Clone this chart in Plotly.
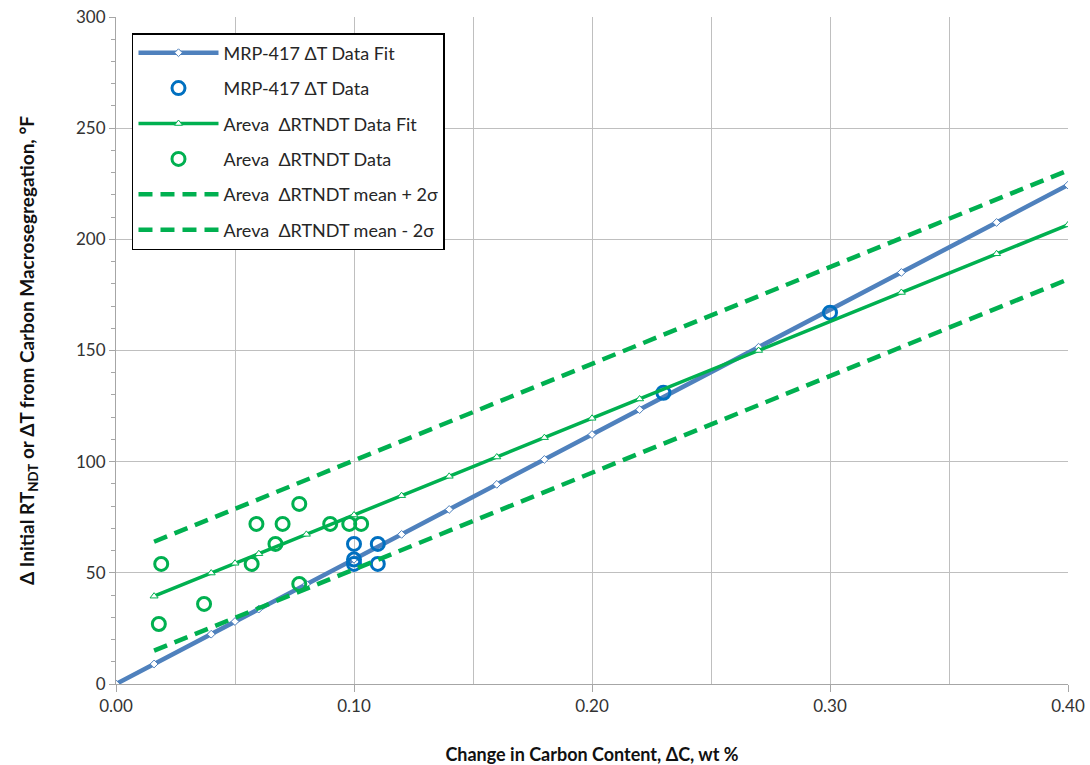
import plotly.graph_objects as go

# MRP-417 fit line (through the origin) and its plotted points
mrp_fit_x = [0.0, 0.016, 0.04, 0.05, 0.06, 0.08, 0.10, 0.12, 0.14, 0.16, 0.18, 0.20, 0.22, 0.27, 0.33, 0.37, 0.40]
mrp_fit_y = [0.0, 9.0, 22.4, 28.1, 33.7, 44.9, 56.1, 67.3, 78.5, 89.8, 101.0, 112.2, 123.4, 151.5, 185.1, 207.6, 224.4]

# MRP-417 measured data
mrp_x = [0.10, 0.10, 0.10, 0.11, 0.11, 0.23, 0.30]
mrp_y = [63, 56, 54, 63, 54, 131, 167]

# Areva fit line
areva_fit_x = [0.016, 0.04, 0.05, 0.06, 0.08, 0.10, 0.12, 0.14, 0.16, 0.18, 0.20, 0.22, 0.27, 0.33, 0.37, 0.40]
areva_fit_y = [39.5, 49.9, 54.3, 58.6, 67.3, 76.0, 84.7, 93.4, 102.1, 110.8, 119.5, 128.2, 150.0, 176.1, 193.5, 206.5]

# Areva measured data
areva_x = [0.018, 0.019, 0.037, 0.057, 0.059, 0.067, 0.070, 0.077, 0.077, 0.090, 0.098, 0.103]
areva_y = [27, 54, 36, 54, 72, 63, 72, 81, 45, 72, 72, 72]

# Areva +/- 2 sigma bounds
band_x = [0.016, 0.40]
band_upper = [64.0, 231.0]
band_lower = [15.0, 182.0]

x_ticks = [0.0, 0.10, 0.20, 0.30, 0.40]
x_tick_text = ["0.00", "0.10", "0.20", "0.30", "0.40"]

BLUE_LINE = "#4F81BD"
BLUE_DATA = "#0070C0"
GREEN = "#00B050"
FONT = "Lato, 'Open Sans', sans-serif"

fig = go.Figure()

fig.add_trace(go.Scatter(
    x=mrp_fit_x, y=mrp_fit_y, mode="lines+markers",
    name="MRP-417 ΔT Data Fit", legendgroup="a",
    line=dict(color=BLUE_LINE, width=4.5),
    marker=dict(symbol="diamond", size=6, color="white",
                line=dict(color=BLUE_LINE, width=1)),
))
fig.add_trace(go.Scatter(
    x=mrp_x, y=mrp_y, mode="markers",
    name="MRP-417 ΔT Data", legendgroup="b",
    marker=dict(symbol="circle-open", size=13, color=BLUE_DATA,
                line=dict(color=BLUE_DATA, width=3)),
))
fig.add_trace(go.Scatter(
    x=areva_fit_x, y=areva_fit_y, mode="lines+markers",
    name="Areva  ΔRTNDT Data Fit", legendgroup="c",
    line=dict(color=GREEN, width=3.5),
    marker=dict(symbol="triangle-up", size=7, color="white",
                line=dict(color=GREEN, width=1)),
))
fig.add_trace(go.Scatter(
    x=areva_x, y=areva_y, mode="markers",
    name="Areva  ΔRTNDT Data", legendgroup="d",
    marker=dict(symbol="circle-open", size=13, color=GREEN,
                line=dict(color=GREEN, width=3)),
))
fig.add_trace(go.Scatter(
    x=band_x, y=band_upper, mode="lines",
    name="Areva  ΔRTNDT mean + 2σ", legendgroup="e",
    line=dict(color=GREEN, width=4.5, dash="14px,8px"),
))
fig.add_trace(go.Scatter(
    x=band_x, y=band_lower, mode="lines",
    name="Areva  ΔRTNDT mean - 2σ", legendgroup="f",
    line=dict(color=GREEN, width=4.5, dash="14px,8px"),
))

fig.update_layout(
    width=1090, height=765,
    margin=dict(l=116, r=22, t=17, b=81, autoexpand=False),
    paper_bgcolor="white", plot_bgcolor="white",
    font=dict(family=FONT, size=17, color="#333333"),
    showlegend=True,
    legend=dict(
        x=0.0168, y=0.976, xanchor="left", yanchor="top",
        bgcolor="white", bordercolor="black", borderwidth=1.5,
        font=dict(family=FONT, size=18, color="#262626"),
        traceorder="grouped", tracegroupgap=9,
        itemwidth=80, entrywidth=340, entrywidthmode="pixels",
    ),
    xaxis=dict(
        range=[0, 0.40], tickvals=x_ticks, ticktext=x_tick_text,
        automargin=False,
        showgrid=True, gridcolor="#BFBFBF", gridwidth=1,
        minor=dict(dtick=0.05, showgrid=True, gridcolor="#BFBFBF", gridwidth=1),
        showline=True, linecolor="#A6A6A6", linewidth=1,
        ticks="outside", ticklen=7, tickcolor="#A6A6A6",
        zeroline=False,
        title=dict(text="<b>Change in Carbon Content, ΔC, wt %</b>",
                   font=dict(family=FONT, size=18, color="#111111"), standoff=38),
    ),
    yaxis=dict(
        range=[0, 300], dtick=50,
        automargin=False,
        showgrid=True, gridcolor="#BFBFBF", gridwidth=1,
        minor=dict(dtick=10, ticks="outside", ticklen=4, tickcolor="#A6A6A6", showgrid=False),
        showline=True, linecolor="#A6A6A6", linewidth=1,
        ticks="outside", ticklen=6, tickcolor="#A6A6A6",
        zeroline=False,
        title=dict(text="<b>Δ Initial RT<sub>NDT</sub> or ΔT from Carbon Macrosegregation, °F</b>",
                   font=dict(family=FONT, size=19, color="#111111"), standoff=36),
    ),
)

fig.write_html("out.html")
